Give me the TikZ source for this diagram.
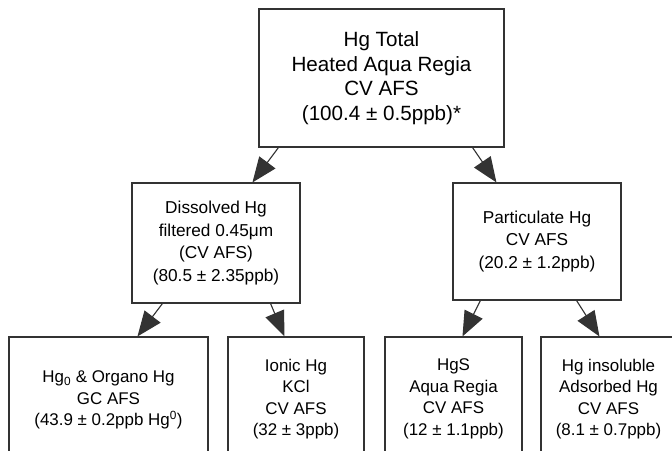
\documentclass[tikz,border=0pt]{standalone}
\usepackage{fontspec}
\setmainfont{Liberation Sans}
\usetikzlibrary{arrows.meta,calc}
\definecolor{linegray}{HTML}{333333}
\begin{document}
\begin{tikzpicture}[x=1bp,y=-1bp,
  box/.style={draw=linegray,line width=1.1bp,align=center,inner sep=0pt,text=black},
  bigtxt/.style={font=\fontsize{20.7}{24.6}\selectfont},
  midtxt/.style={font=\fontsize{17.3}{22.6}\selectfont},
  smalltxt/.style={font=\fontsize{17}{21.6}\selectfont},
  arr/.style={draw=linegray,line width=1.1bp,-{Triangle[length=25bp,width=20bp]},fill=linegray}]
\useasboundingbox (0,0) rectangle (672,451);
\clip (0,0) rectangle (672,451);
\fill[white] (0,0) rectangle (672,451);

\node[box,bigtxt,minimum width=245bp,minimum height=138bp] (top) at (381.5,78)
  {Hg Total\\Heated Aqua Regia\\CV AFS\\(100.4 ± 0.5ppb)*};

\node[box,midtxt,minimum width=168bp,minimum height=120bp] (dis) at (216,243)
  {Dissolved Hg\\filtered 0.45μm\\(CV AFS)\\(80.5 ± 2.35ppb)};
\node[box,midtxt,minimum width=168bp,minimum height=117bp] (part) at (537,241.5)
  {Particulate Hg\\CV AFS\\(20.2 ± 1.2ppb)};

\node[box,smalltxt,minimum width=199bp,minimum height=126bp] (hgz) at (108.5,400)
  {Hg\textsubscript{0} \& Organo Hg\\GC AFS\\(43.9 ± 0.2ppb Hg\textsuperscript{0})};
\node[box,smalltxt,minimum width=136bp,minimum height=124bp] (ion) at (296,399)
  {Ionic Hg\\KCl\\CV AFS\\(32 ± 3ppb)};
\node[box,smalltxt,minimum width=137bp,minimum height=124bp] (hgs) at (453.5,399)
  {HgS\\Aqua Regia\\CV AFS\\(12 ± 1.1ppb)};
\node[box,smalltxt,minimum width=135bp,minimum height=124bp] (ins) at (608.5,399)
  {Hg insoluble\\Adsorbed Hg\\CV AFS\\(8.1 ± 0.7ppb)};

\draw[arr] ([xshift=20bp]top.south west) -- ([xshift=121bp]dis.north west);
\draw[arr] ([xshift=-32bp]top.south east) -- ([xshift=44bp]part.north west);
\draw[arr] ([xshift=31bp]dis.south west) -- ([xshift=129bp]hgz.north west);
\draw[arr] ([xshift=-30bp]dis.south east) -- ([xshift=57bp]ion.north west);
\draw[arr] ([xshift=28bp]part.south west) -- ([xshift=78bp]hgs.north west);
\draw[arr] ([xshift=-45bp]part.south east) -- ([xshift=59bp]ins.north west);
\end{tikzpicture}
\end{document}
